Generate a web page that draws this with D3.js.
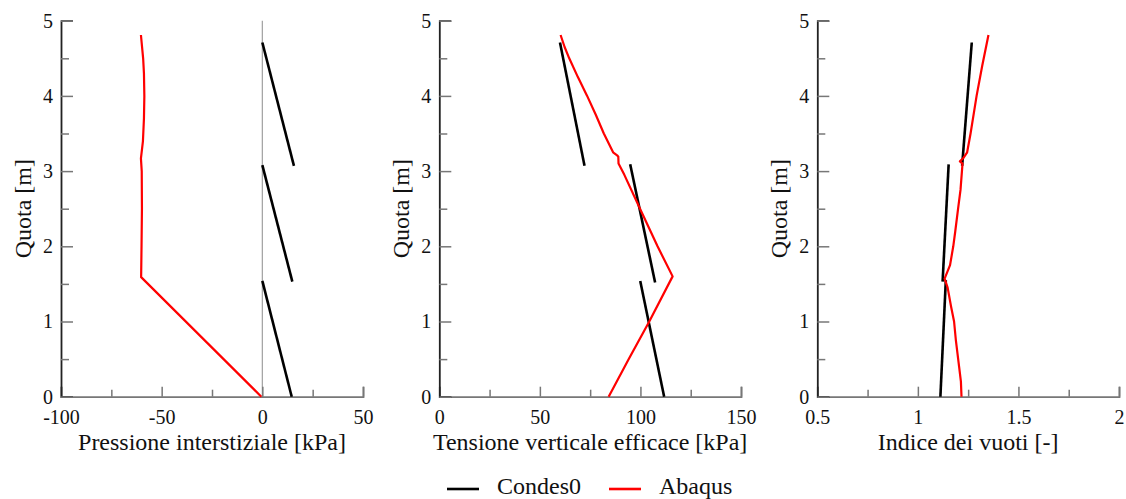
<!DOCTYPE html>
<html>
<head>
  <meta charset="utf-8">
  <title>Condes0 vs Abaqus</title>
  <script src="https://d3js.org/d3.v7.min.js"></script>
  <style>
    body { margin: 0; background: #fff; }
    svg text { font-family: "Liberation Serif", "Times New Roman", serif; fill: #111; }
  </style>
</head>
<body>
<svg id="chart" width="1126" height="499"></svg>
<script>
  // quota (m) shared by all panels
  var quotaDomain = [0, 5];
  var quotaTicks = [0, 1, 2, 3, 4, 5];

  // --- Pressione interstiziale [kPa]
  var presCondes = [
    [[0, 1.54], [14.6, 0]],
    [[0, 3.08], [14.9, 1.53]],
    [[0, 4.71], [15.7, 3.07]]
  ];
  var presAbaqus = [[-0.5, 0], [-60.2, 1.59], [-60.0, 2.0], [-59.8, 2.5], [-59.9, 3.0],
    [-60.3, 3.17], [-59.3, 3.4], [-58.8, 3.7], [-58.6, 4.0], [-58.8, 4.3], [-59.2, 4.5], [-60.3, 4.81]];

  // --- Tensione verticale efficace [kPa]
  var tensCondes = [
    [[99.9, 1.54], [111.8, 0]],
    [[94.9, 3.09], [107.3, 1.52]],
    [[60.0, 4.71], [72.2, 3.07]]
  ];
  var tensAbaqus = [[84.2, 0], [94.2, 0.5], [104.4, 1.0], [116, 1.6], [108.5, 2.0], [99.8, 2.5],
    [92.0, 2.95], [89.1, 3.1], [89.0, 3.19], [88.4, 3.21], [86.4, 3.25], [81.8, 3.5],
    [77.8, 3.75], [73.5, 4.0], [68.9, 4.25], [64.6, 4.5], [62.3, 4.65], [60.3, 4.81]];

  // --- Indice dei vuoti [-]
  var vuotiCondes = [
    [[1.139, 1.55], [1.112, 0]],
    [[1.153, 3.09], [1.123, 1.53]],
    [[1.268, 4.71], [1.220, 3.07]]
  ];
  var vuotiAbaqus = [[1.217, 0], [1.214, 0.2], [1.205, 0.4], [1.189, 0.75], [1.18, 1.0],
    [1.165, 1.2], [1.148, 1.45], [1.133, 1.57], [1.145, 1.65], [1.16, 1.75], [1.176, 2.0],
    [1.186, 2.2], [1.2, 2.5], [1.212, 2.75], [1.222, 3.1], [1.209, 3.13], [1.225, 3.17],
    [1.245, 3.25], [1.262, 3.5], [1.292, 4.0], [1.32, 4.4], [1.351, 4.81]];

  var fmtInt = function(d) { return d3.format("d")(d).replace("\u2212", "-"); };

  var panels = [
    { left: 61, right: 363, domain: [-100, 50], major: [-100, -50, 0, 50], minor: [-75, -25, 25],
      fmt: fmtInt, title: "Pressione interstiziale [kPa]",
      condes: presCondes, abaqus: presAbaqus, zeroLine: true },
    { left: 439.3, right: 741, domain: [0, 150], major: [0, 50, 100, 150], minor: [25, 75, 125],
      fmt: fmtInt, title: "Tensione verticale efficace [kPa]",
      condes: tensCondes, abaqus: tensAbaqus },
    { left: 817.3, right: 1119, domain: [0.5, 2], major: [0.5, 1, 1.5, 2], minor: [0.75, 1.25, 1.75],
      fmt: function(d) { return String(d); }, title: "Indice dei vuoti [-]",
      condes: vuotiCondes, abaqus: vuotiAbaqus }
  ];

  var svg = d3.select("#chart");
  var plotTop = 20.7, plotBottom = 396.7;

  var y = d3.scaleLinear().domain(quotaDomain).range([plotBottom, plotTop]);

  panels.forEach(function(p) {
    var x = d3.scaleLinear().domain(p.domain).range([p.left, p.right]);
    var g = svg.append("g");

    if (p.zeroLine) {
      g.append("line")
        .attr("x1", x(0)).attr("x2", x(0))
        .attr("y1", y(0)).attr("y2", y(5))
        .attr("stroke", "#a0a0a0").attr("stroke-width", 1.2);
    }

    // x axis: ticks point inward
    var xAxis = g.append("g").attr("transform", "translate(0," + plotBottom + ")")
      .call(d3.axisBottom(x).tickValues(p.major).tickFormat(p.fmt).tickSize(-10).tickPadding(13));
    g.append("g").attr("transform", "translate(0," + plotBottom + ")")
      .call(d3.axisBottom(x).tickValues(p.minor).tickFormat("").tickSize(-7))
      .select(".domain").remove();
    xAxis.select(".domain").attr("stroke", "#777").attr("stroke-width", 1.8);
    xAxis.selectAll("text").attr("font-size", 20).attr("fill", "#111")
      .attr("font-family", "Liberation Serif");

    // y axis
    var yAxis = g.append("g").attr("transform", "translate(" + p.left + ",0)")
      .call(d3.axisLeft(y).tickValues(quotaTicks).tickFormat(d3.format("d")).tickSize(-12).tickPadding(8));
    g.append("g").attr("transform", "translate(" + p.left + ",0)")
      .call(d3.axisLeft(y).tickValues([0.5, 1.5, 2.5, 3.5, 4.5]).tickFormat("").tickSize(-8))
      .select(".domain").remove();
    yAxis.select(".domain").attr("stroke", "#222").attr("stroke-width", 1.8);
    g.selectAll(".tick line").attr("stroke", "#777").attr("stroke-width", 1.5);
    yAxis.selectAll("text").attr("font-size", 20).attr("fill", "#111")
      .attr("font-family", "Liberation Serif");

    // titles
    g.append("text")
      .attr("x", (p.left + p.right) / 2).attr("y", 450)
      .attr("text-anchor", "middle").attr("font-size", 24)
      .text(p.title);
    g.append("text")
      .attr("transform", "translate(" + (p.left - 30) + "," + ((plotTop + plotBottom) / 2) + ") rotate(-90)")
      .attr("text-anchor", "middle").attr("font-size", 24)
      .text("Quota [m]");

    var line = d3.line().x(function(d) { return x(d[0]); }).y(function(d) { return y(d[1]); });

    p.condes.forEach(function(seg) {
      g.append("path").attr("d", line(seg))
        .attr("fill", "none").attr("stroke", "#000").attr("stroke-width", 2.6);
    });
    g.append("path").attr("d", line(p.abaqus))
      .attr("fill", "none").attr("stroke", "#ff0000").attr("stroke-width", 2.2)
      .attr("stroke-linejoin", "round");
  });

  // legend
  var legend = [
    { name: "Condes0", color: "#000", x: 447 },
    { name: "Abaqus", color: "#ff0000", x: 609 }
  ];
  var lg = svg.append("g");
  legend.forEach(function(l) {
    lg.append("line")
      .attr("x1", l.x).attr("x2", l.x + 32).attr("y1", 489).attr("y2", 489)
      .attr("stroke", l.color).attr("stroke-width", 2.6);
    lg.append("text").attr("x", l.x + 50).attr("y", 494)
      .attr("font-size", 24).text(l.name);
  });
</script>
</body>
</html>
